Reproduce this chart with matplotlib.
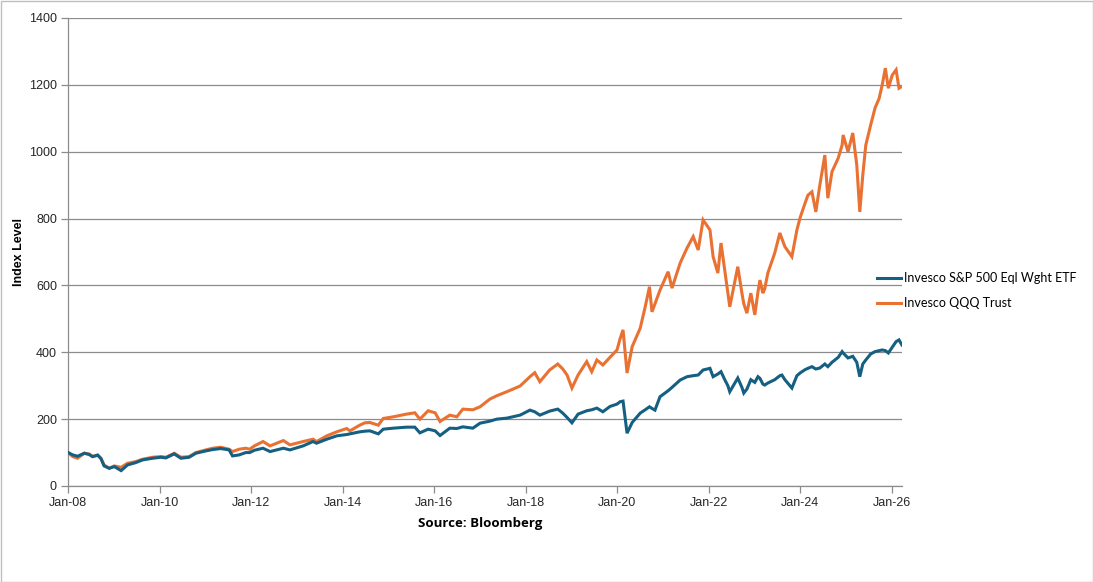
import matplotlib
matplotlib.use("Agg")
import matplotlib.pyplot as plt
import matplotlib.dates as mdates
from matplotlib.patches import Rectangle
import pandas as pd

dates = [
    "2008-01-02", "2008-02-08", "2008-03-17", "2008-05-10", "2008-06-18", "2008-07-15",
    "2008-08-25", "2008-09-20", "2008-10-15", "2008-11-25", "2009-01-05", "2009-02-28",
    "2009-04-20", "2009-06-25", "2009-08-18", "2009-11-06", "2010-01-12", "2010-02-20",
    "2010-04-28", "2010-06-20", "2010-08-25", "2010-10-18", "2011-01-06", "2011-03-01",
    "2011-05-04", "2011-07-10", "2011-08-06", "2011-09-28", "2011-11-20", "2011-12-22",
    "2012-01-28", "2012-04-06", "2012-06-01", "2012-09-15", "2012-11-07", "2013-02-20",
    "2013-05-10", "2013-06-07", "2013-08-28", "2013-11-15", "2014-02-03", "2014-03-01",
    "2014-05-18", "2014-06-28", "2014-08-07", "2014-10-13", "2014-11-22", "2015-02-10",
    "2015-05-26", "2015-08-01", "2015-09-10", "2015-11-15", "2016-01-10", "2016-02-18",
    "2016-05-06", "2016-07-01", "2016-08-18", "2016-11-06", "2017-01-03", "2017-03-22",
    "2017-05-16", "2017-08-04", "2017-11-18", "2018-02-05", "2018-03-15", "2018-04-25",
    "2018-07-12", "2018-09-15", "2018-10-25", "2018-11-28", "2019-01-06", "2019-02-24",
    "2019-05-04", "2019-06-13", "2019-07-24", "2019-09-10", "2019-11-06", "2020-01-01",
    "2020-01-25", "2020-02-18", "2020-03-21", "2020-05-01", "2020-07-04", "2020-08-13",
    "2020-09-16", "2020-10-06", "2020-10-30", "2020-12-09", "2021-02-12", "2021-03-15",
    "2021-05-19", "2021-07-13", "2021-08-31", "2021-10-10", "2021-11-18", "2022-01-12",
    "2022-02-06", "2022-03-16", "2022-04-10", "2022-05-10", "2022-06-04", "2022-06-19",
    "2022-08-22", "2022-09-24", "2022-10-09", "2022-11-03", "2022-12-04", "2023-01-05",
    "2023-01-30", "2023-02-15", "2023-03-10", "2023-03-25", "2023-04-19", "2023-06-13",
    "2023-07-24", "2023-08-09", "2023-09-02", "2023-10-28", "2023-12-07", "2024-01-01",
    "2024-02-10", "2024-03-04", "2024-04-05", "2024-05-06", "2024-06-07", "2024-07-17",
    "2024-08-10", "2024-09-12", "2024-11-01", "2024-12-02", "2024-12-10", "2025-01-18",
    "2025-02-25", "2025-03-29", "2025-04-22", "2025-05-16", "2025-06-09", "2025-07-18",
    "2025-08-22", "2025-09-24", "2025-10-18", "2025-11-12", "2025-12-06", "2026-01-06",
    "2026-02-06", "2026-03-01", "2026-03-24",
]

qqq = [
    100, 88, 83, 98, 96, 88,
    93, 83, 63, 53, 60, 56,
    68, 73, 80, 86, 88, 86,
    98, 86, 88, 100, 108, 113,
    116, 110, 103, 110, 113, 110,
    120, 133, 120, 136, 123, 133,
    140, 133, 150, 162, 172, 165,
    182, 189, 190, 182, 202, 207,
    215, 219, 200, 225, 219, 193,
    212, 207, 230, 228, 237, 260,
    270, 282, 299, 327, 339, 312,
    347, 365, 350, 332, 293, 332,
    372, 342, 377, 362, 385, 407,
    440, 467, 338, 417, 472, 536,
    596, 521, 545, 586, 641, 592,
    667, 712, 746, 706, 796, 766,
    686, 637, 727, 646, 577, 536,
    656, 577, 545, 517, 577, 512,
    580, 616, 577, 590, 637, 697,
    757, 740, 716, 686, 766, 802,
    846, 870, 880, 820, 900, 990,
    861, 940, 981, 1020, 1050, 1000,
    1056, 960, 820, 930, 1020, 1080,
    1131, 1160, 1200, 1250, 1190, 1229,
    1245, 1190, 1195,
]

rsp = [
    100, 93, 89, 98, 94, 88,
    92, 82, 60, 53, 58, 46,
    63, 70, 78, 83, 86, 84,
    96, 83, 86, 98, 105, 109,
    112, 108, 90, 93, 100, 100,
    107, 113, 103, 113, 108, 120,
    133, 128, 140, 150, 154, 156,
    162, 164, 165, 156, 170, 173,
    176, 176, 159, 170, 165, 151,
    173, 172, 177, 173, 188, 194,
    200, 203, 212, 227, 222, 212,
    224, 230, 218, 205, 189, 215,
    225, 228, 233, 222, 238, 245,
    252, 254, 158, 190, 218, 228,
    237, 232, 227, 267, 285, 295,
    317, 327, 330, 332, 347, 352,
    327, 335, 342, 318, 300, 282,
    323, 295, 278, 290, 318, 310,
    327, 322, 305, 302, 308, 318,
    330, 332, 318, 293, 330, 338,
    348, 352, 357, 350, 353, 365,
    357, 370, 385, 402, 398, 383,
    388, 370, 327, 365, 377, 395,
    402, 405, 407, 405, 398, 415,
    432, 437, 422,
]

series_names = ["Invesco S&P 500 Eql Wght ETF", "Invesco QQQ Trust"]
y_ticks = [0, 200, 400, 600, 800, 1000, 1200, 1400]

dt = pd.to_datetime(dates)

BLUE = "#156082"
ORANGE = "#E97132"
GRID = "#8c8c8c"

fig = plt.figure(figsize=(10.93, 5.82), dpi=100)
ax = fig.add_axes([68 / 1093, 1 - 486 / 582, (902 - 68) / 1093, (486 - 18) / 582])

ax.plot(dt, rsp, color=BLUE, lw=2.2, label=series_names[0], zorder=3,
        solid_joinstyle="miter")
ax.plot(dt, qqq, color=ORANGE, lw=2.2, label=series_names[1], zorder=2,
        solid_joinstyle="miter")

ax.set_ylim(0, 1400)
ax.set_yticks(y_ticks)
ax.set_xlim(pd.Timestamp("2008-01-01"), pd.Timestamp("2026-03-25"))
ax.xaxis.set_major_locator(mdates.YearLocator(2, month=1, day=1))
ax.xaxis.set_major_formatter(mdates.DateFormatter("%b-%y"))

ax.grid(axis="y", color=GRID, lw=0.9)
ax.set_axisbelow(True)
for s in ["top", "right"]:
    ax.spines[s].set_visible(False)
ax.spines["left"].set_color(GRID)
ax.spines["bottom"].set_color(GRID)
ax.spines["left"].set_linewidth(0.9)
ax.spines["bottom"].set_linewidth(0.9)
ax.tick_params(axis="both", color=GRID, length=5, width=0.9, labelsize=9,
               labelcolor="#262626", pad=3)
for lab in ax.get_xticklabels() + ax.get_yticklabels():
    lab.set_family("Liberation Sans")

ax.set_ylabel("Index Level", fontsize=9, fontweight="bold", family="Liberation Sans",
              color="#000000", labelpad=3)
fig.text(480 / 1093, 1 - 523 / 582, "Source: Bloomberg", fontsize=9.5, fontweight="bold",
         family="Open Sans", ha="center", va="center", color="#000000")

leg = ax.legend(loc="center left", bbox_to_anchor=(877 / 1093, 1 - 290.5 / 582),
                bbox_transform=fig.transFigure, frameon=False,
                borderpad=0, borderaxespad=0,
                handlelength=1.9, handletextpad=0.3, labelspacing=1.05,
                prop={"family": "Lato", "size": 9})
for line in leg.get_lines():
    line.set_linewidth(2.2)

fig.patches.append(Rectangle((0.5 / 1093, 0.5 / 582), 1 - 1 / 1093, 1 - 1 / 582,
                             transform=fig.transFigure, fill=False,
                             edgecolor="#bfbfbf", lw=1.0))

fig.savefig("out.png", dpi=100)
